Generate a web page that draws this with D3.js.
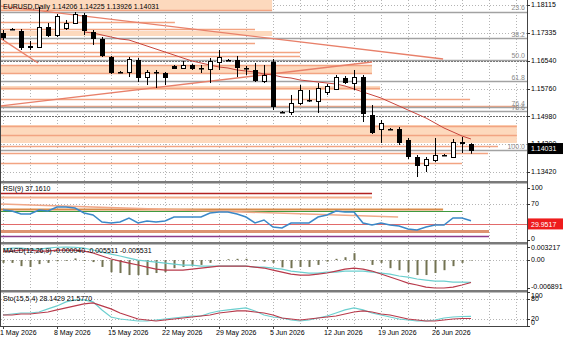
<!DOCTYPE html>
<meta charset="utf-8">
<head>
	<title>EURUSD Daily</title>
</head>

<style>
	body { margin: 0; background: #fff; }
	svg { display: block; font-family: "Liberation Sans", Arial, sans-serif; font-size: 7px; }
</style>

<body>
	<svg width="564" height="338"></svg>

	<script src="https://d3js.org/d3.v7.min.js"></script>
	<script>
// daily bars (broker has Sunday bars)
var dates = ["2026-05-01",
	"2026-05-03","2026-05-04","2026-05-05","2026-05-06","2026-05-07","2026-05-08",
	"2026-05-10","2026-05-11","2026-05-12","2026-05-13","2026-05-14","2026-05-15",
	"2026-05-17","2026-05-18","2026-05-19","2026-05-20","2026-05-21","2026-05-22",
	"2026-05-24","2026-05-25","2026-05-26","2026-05-27","2026-05-28","2026-05-29",
	"2026-05-31","2026-06-01","2026-06-02","2026-06-03","2026-06-04","2026-06-05",
	"2026-06-07","2026-06-08","2026-06-09","2026-06-10","2026-06-11","2026-06-12",
	"2026-06-14","2026-06-15","2026-06-16","2026-06-17","2026-06-18","2026-06-19",
	"2026-06-21","2026-06-22","2026-06-23","2026-06-24","2026-06-25","2026-06-26",
	"2026-06-28","2026-06-29","2026-06-30","2026-07-01"];
var xLabelDates = ["2026-05-01","2026-05-08","2026-05-15","2026-05-22","2026-05-29",
	"2026-06-05","2026-06-12","2026-06-19","2026-06-26"];

// open, high, low, close
var ohlc = [
	[1.17327,1.17411,1.17129,1.17214],[1.17440,1.17467,1.17411,1.17430],[1.17383,1.17439,1.16848,1.16932],
	[1.16932,1.17101,1.16848,1.16960],[1.16932,1.18059,1.16904,1.17495],[1.17495,1.17608,1.17214,1.17270],
	[1.17270,1.17862,1.17214,1.17805],[1.17467,1.17693,1.17411,1.17608],[1.17608,1.17918,1.17580,1.17862],
	[1.17833,1.17890,1.17270,1.17411],[1.17355,1.17411,1.16989,1.17186],[1.17158,1.17214,1.16651,1.16707],
	[1.16651,1.16679,1.16172,1.16228],[1.16228,1.16256,1.16200,1.16235],[1.16228,1.16651,1.16087,1.16594],
	[1.16566,1.16622,1.15947,1.16087],[1.16087,1.16285,1.15862,1.16228],[1.16228,1.16285,1.15778,1.16215],
	[1.16200,1.16228,1.15862,1.16087],[1.16397,1.16425,1.16313,1.16341],[1.16341,1.16538,1.16313,1.16425],
	[1.16425,1.16454,1.16285,1.16341],[1.16341,1.16425,1.16200,1.16330],[1.16313,1.16622,1.15918,1.16538],
	[1.16510,1.16848,1.16285,1.16651],[1.16566,1.16594,1.16538,1.16560],[1.16566,1.16679,1.16087,1.16369],
	[1.16341,1.16397,1.16144,1.16330],[1.16285,1.16482,1.15947,1.16003],[1.15975,1.16425,1.15918,1.16144],
	[1.16510,1.16594,1.15158,1.15271],[1.15102,1.15130,1.15074,1.15095],[1.15102,1.15581,1.15017,1.15355],
	[1.15355,1.15862,1.15299,1.15721],[1.15440,1.15721,1.15383,1.15430],[1.15412,1.15918,1.15074,1.15778],
	[1.15665,1.15890,1.15581,1.15834],[1.15750,1.16144,1.15721,1.16087],[1.16059,1.16116,1.15890,1.15947],
	[1.15918,1.16285,1.15721,1.16087],[1.16087,1.16144,1.14820,1.15074],[1.15017,1.15299,1.14482,1.14539],
	[1.14623,1.14877,1.14229,1.14792],[1.14623,1.14651,1.14595,1.14615],[1.14623,1.14679,1.14173,1.14257],
	[1.14313,1.14370,1.13778,1.13863],[1.13835,1.13891,1.13271,1.13609],[1.13609,1.13835,1.13412,1.13778],
	[1.13750,1.14370,1.13694,1.13891],[1.13891,1.13919,1.13863,1.13885],[1.13835,1.14341,1.13806,1.14257],
	[1.14220,1.14398,1.13947,1.14245],[1.14206,1.14225,1.13926,1.14031]];

// moving average on the price window
var ma = [null,null,null,null,null,null,null,null,null,
	1.17355,1.17327,1.17270,1.17214,1.17158,1.17129,1.17045,1.16960,1.16876,1.16791,1.16707,
	1.16622,1.16538,1.16482,1.16425,1.16369,1.16341,1.16285,1.16256,1.16228,1.16172,1.16144,
	1.16087,1.16059,1.16003,1.15975,1.15947,1.15918,1.15890,1.15834,1.15750,1.15665,1.15581,
	1.15496,1.15383,1.15271,1.15158,1.15045,1.14933,1.14792,1.14651,1.14539,1.14426,1.14341];

var priceTicks = [1.18115, 1.17335, 1.16540, 1.15760, 1.14980, 1.14200, 1.13420];
var lastPrice = 1.14031;

// drawn objects: zones [top, bottom, last bar], levels [price, last bar]
var zones = [[1.18300,1.17974,29.9],[1.17383,1.17242,29.9],[1.16425,1.16200,41],
	[1.15834,1.15721,41.9],[1.14736,1.14229,57.1]];
var levels = [[1.17974,29.9],[1.17636,19.1],[1.17439,28],[1.17045,28],[1.16791,33],[1.16679,33],
	[1.16425,41],[1.16200,41],[1.15778,41.9],[1.15468,51.9],[1.15271,57.1],[1.14708,57.1],
	[1.14454,57.1],[1.14144,55],[1.13947,53.9],[1.13666,51]];
var dashedLevels = [1.16540, 1.14980];
var trendLines = [[[-0.33,1.18087],[48.9,1.16594]], [[-0.33,1.17186],[3.9,1.16482]],
	[[-0.33,1.15271],[41,1.16510]]];
var fibHigh = 1.1912, fibLow = 1.1403;
var fibLevels = [23.6, 38.2, 50.0, 61.8, 76.4, 78.6, 100.0];

var rsi = [57.7,55.8,50.0,50.0,57.7,55.8,63.5,63.5,61.5,51.9,48.1,34.6,32.7,34.6,42.3,32.7,36.5,34.6,
	36.5,44.2,44.2,44.2,44.2,51.9,53.8,53.8,50.0,44.2,32.7,38.5,25.0,23.1,32.7,32.7,32.7,44.2,48.1,
	55.8,53.8,53.8,32.7,28.8,32.7,28.8,26.9,21.2,19.2,25.0,28.8,28.8,42.3,42.3,37.161];
var rsiTicks = [100, 70, 0];
var rsiLevels = [[90.4,41],[82.7,41],[59.6,48.9],[55.8,51],[17.3,54],[7.7,54]];
var rsiTrend = [[-0.33,69.2],[43.9,44.2]];
var rsiAlert = 29.9517;

var macdHist = [-0.0007,-0.0007,-0.0015,-0.0017,-0.0010,-0.0007,-0.0003,-0.0002,0.0004,-0.0002,
	-0.0005,-0.0017,-0.0030,-0.0032,-0.0037,-0.0037,-0.0037,-0.0032,-0.0030,-0.0020,
	-0.0017,-0.0015,-0.0012,-0.0007,-0.0002,0.0002,0.0003,0.0003,-0.0002,-0.0004,
	-0.0007,-0.0018,-0.0020,-0.0017,-0.0017,-0.0012,-0.0004,0.0003,0.0007,0.0017,
	-0.0002,-0.0012,-0.0007,-0.0020,-0.0025,-0.0030,-0.0037,-0.0037,-0.0032,-0.0025,
	-0.0015,-0.0007,-0.00004];
var macdMain = [0.00271,0.00296,0.00296,0.00271,0.00271,0.00296,0.00315,0.003217,0.00315,0.00296,
	0.00247,0.00197,0.00148,0.00099,0.00049,0,-0.00025,-0.00049,-0.00074,-0.00099,
	-0.00123,-0.00123,-0.00148,-0.00148,-0.00148,-0.00148,-0.00148,-0.00148,-0.00173,-0.00173,
	-0.00197,-0.00222,-0.00271,-0.00296,-0.00320,-0.00320,-0.00296,-0.00296,-0.00271,-0.00271,
	-0.00271,-0.00296,-0.00320,-0.00345,-0.00394,-0.00419,-0.00468,-0.00493,-0.00518,-0.00518,
	-0.00542,-0.00545,-0.005511];
var macdSignal = [0.00222,0.00222,0.00247,0.00247,0.00222,0.00222,0.00247,0.00247,0.00247,0.00222,
	0.00173,0.00099,0.00025,-0.00025,-0.00074,-0.00123,-0.00173,-0.00222,-0.00247,-0.00247,
	-0.00247,-0.00222,-0.00197,-0.00173,-0.00148,-0.00148,-0.00148,-0.00148,-0.00173,-0.00197,
	-0.00247,-0.00296,-0.00345,-0.00370,-0.00370,-0.00345,-0.00320,-0.00271,-0.00222,-0.00197,
	-0.00222,-0.00271,-0.00345,-0.00419,-0.00493,-0.00567,-0.00616,-0.00666,-0.006891,-0.00689,
	-0.00666,-0.00616,-0.005531];
var macdTicks = [0.003217, 0, -0.006891];

var stoK = [32.1,35.1,38.1,38.1,41.1,50.2,59.2,71.2,77.2,77.2,71.2,47.2,26.1,20.1,17.1,14.1,14.1,17.1,
	20.1,23.1,26.1,29.1,29.1,38.1,44.1,47.2,50.2,53.2,44.1,32.1,26.1,23.1,17.1,14.1,17.1,23.1,29.1,
	38.1,47.2,53.2,47.2,38.1,32.1,26.1,20.1,17.1,14.1,14.1,17.1,23.1,26.1,27.6,28.1429];
var stoD = [32.1,32.1,35.1,35.1,38.1,41.1,47.2,53.2,59.2,65.2,68.2,59.2,50.2,38.1,29.1,20.1,17.1,14.1,
	17.1,20.1,23.1,26.1,29.1,32.1,38.1,41.1,44.1,44.1,41.1,38.1,32.1,23.1,20.1,17.1,20.1,23.1,26.1,
	29.1,35.1,41.1,44.1,41.1,35.1,32.1,26.1,20.1,17.1,14.1,14.1,17.1,20.1,21.6,21.577];
var stoTicks = [100, 80, 20, 0];

var svg = d3.select('svg');
var L = 1, R = 527;
var parse = d3.timeParse('%Y-%m-%d'), fmt = d3.timeFormat('%-d %b %Y');

var x = d3.scaleLinear().domain([0, 58]).range([3, 525]);
var yP = d3.scaleLinear().domain([1.13187, 1.18256]).range([180, 0]);
var yR = d3.scaleLinear().domain([0, 100]).range([240, 188]);
var yM = d3.scaleLinear().domain([-0.006891, 0.003217]).range([288, 247]);
var yS = d3.scaleLinear().domain([0, 100]).range([325.7, 292.3]);

var peach = '#fdd9bd', salmon = '#f2a482', coral = '#e8806a', grid = '#b4b4b4';

function panel(id, top, bottom) {
	svg.append('clipPath').attr('id', id).append('rect')
		.attr('x', L).attr('y', top).attr('width', R - L).attr('height', bottom - top);
	var g = svg.append('g').attr('clip-path', 'url(#' + id + ')');
	g.selectAll('line.vg').data(d3.range(0, 58, 3)).enter().append('line')
		.attr('x1', function(d) {return x(d) + 0.5;}).attr('x2', function(d) {return x(d) + 0.5;})
		.attr('y1', top).attr('y2', bottom)
		.attr('stroke', grid).attr('stroke-dasharray', '1,2');
	return g;
}

function hline(g, y, x2, color, w, dash) {
	var yy = Math.round(y) + 0.5;
	g.append('line').attr('x1', L).attr('x2', x2).attr('y1', yy).attr('y2', yy)
		.attr('stroke', color).attr('stroke-width', w || 1)
		.attr('stroke-dasharray', dash || null);
}

function seg(g, pts, sy, color, w) {
	g.append('line')
		.attr('x1', x(pts[0][0])).attr('y1', sy(pts[0][1]))
		.attr('x2', x(pts[1][0])).attr('y2', sy(pts[1][1]))
		.attr('stroke', color).attr('stroke-width', w);
}

function series(g, vals, sy, color, w) {
	g.append('path').datum(vals)
		.attr('d', d3.line().defined(function(d) {return d != null;})
			.x(function(d, i) {return x(i);}).y(function(d) {return sy(d);}))
		.attr('fill', 'none').attr('stroke', color).attr('stroke-width', w);
}

function axisLabels(ticks, sy, top, bottom, f) {
	ticks.forEach(function(t) {
		var y = Math.max(top + 3, Math.min(bottom - 3, sy(t)));
		svg.append('line').attr('x1', R).attr('x2', R + 3).attr('y1', Math.round(sy(t)) + 0.5)
			.attr('y2', Math.round(sy(t)) + 0.5).attr('stroke', '#333');
		svg.append('text').attr('x', R + 4).attr('y', y).attr('dy', '0.35em').text(f(t));
	});
}

// ---- main price window
var gMain = panel('cMain', 0, 181);
priceTicks.forEach(function(p) {hline(gMain, yP(p), R, grid, 1, '1,2');});
zones.forEach(function(z) {
	gMain.append('rect').attr('x', L).attr('y', yP(z[0]))
		.attr('width', x(z[2]) - L).attr('height', yP(z[1]) - yP(z[0])).attr('fill', peach);
});
levels.forEach(function(l) {hline(gMain, yP(l[0]), x(l[1]), salmon, 1.3);});
dashedLevels.forEach(function(p) {hline(gMain, yP(p), R, '#6a6a6a', 1, '2,1');});
fibLevels.forEach(function(f) {
	var p = fibHigh - (fibHigh - fibLow) * f / 100;
	hline(gMain, yP(p), R, '#a2a2a2', 1.4);
	gMain.append('text').attr('x', R - 2).attr('y', yP(p) - 1.5).attr('text-anchor', 'end')
		.attr('fill', '#8a8a8a').text(f.toFixed(1));
});
trendLines.forEach(function(t) {seg(gMain, t, yP, coral, 1.4);});
series(gMain, ma, yP, '#c8463e', 1);

var candle = gMain.selectAll('g.candle').data(ohlc).enter().append('g');
candle.append('line')
	.attr('x1', function(d, i) {return x(i) + 0.5;}).attr('x2', function(d, i) {return x(i) + 0.5;})
	.attr('y1', function(d) {return yP(d[1]);}).attr('y2', function(d) {return yP(d[2]);})
	.attr('stroke', '#000');
candle.append('rect')
	.attr('x', function(d, i) {return x(i) - 1.5;})
	.attr('y', function(d) {return Math.round(yP(Math.max(d[0], d[3]))) + 0.5;})
	.attr('width', 4)
	.attr('height', function(d) {return Math.max(0.5, Math.round(Math.abs(yP(d[0]) - yP(d[3]))));})
	.attr('fill', function(d) {return d[3] < d[0] ? '#000' : '#fff';})
	.attr('stroke', '#000');

gMain.append('text').attr('x', 3).attr('y', 9)
	.text('EURUSD,Daily  1.14206 1.14225 1.13926 1.14031');

// ---- RSI window
var gRsi = panel('cRsi', 184, 242);
[70, 30].forEach(function(v) {hline(gRsi, yR(v), R, grid, 1, '1,2');});
var rsiStyle = [['#b22222', 1.5], ['#f4b08e', 2], ['#d98b4a', 2], ['#3f9a3f', 1.2], ['#dd9270', 3], ['#8b3a8b', 1.5]];
rsiLevels.forEach(function(l, i) {hline(gRsi, yR(l[0]), x(l[1]), rsiStyle[i][0], rsiStyle[i][1]);});
seg(gRsi, rsiTrend, yR, '#f0a888', 1.5);
hline(gRsi, yR(rsiAlert), R, '#e26a6a', 1);
series(gRsi, rsi, yR, '#3a88c8', 1.5);
gRsi.append('text').attr('x', 3).attr('y', 191).text('RSI(9) 37.1610');

// ---- MACD window
var gMacd = panel('cMacd', 245, 290);
hline(gMacd, yM(0), R, grid, 1, '1,2');
gMacd.selectAll('rect.h').data(macdHist).enter().append('rect')
	.attr('x', function(d, i) {return x(i) - 0.5;}).attr('width', 2)
	.attr('y', function(d) {return Math.min(yM(0), yM(d));})
	.attr('height', function(d) {return Math.max(0.5, Math.abs(yM(d) - yM(0)));})
	.attr('fill', '#737352');
series(gMacd, macdMain, yM, '#6ccfcf', 1.2);
series(gMacd, macdSignal, yM, '#b83a4b', 1.2);
gMacd.append('text').attr('x', 3).attr('y', 253).text('MACD(12,26,9) -0.000040 -0.005511 -0.005531');

// ---- Stochastic window
var gSto = panel('cSto', 293, 326);
[80, 20].forEach(function(v) {hline(gSto, yS(v), R, grid, 1, '1,2');});
series(gSto, stoK, yS, '#6ccfcf', 1.2);
series(gSto, stoD, yS, '#b83a4b', 1.2);
gSto.append('text').attr('x', 3).attr('y', 301).text('Sto(15,5,4) 28.1429 21.5770');

// ---- frame and separators
[181, 242, 290].forEach(function(y) {
	svg.append('rect').attr('x', 0).attr('y', y).attr('width', R + 1).attr('height', 2.5).attr('fill', '#7a7a7a');
});
svg.append('line').attr('x1', 0.5).attr('x2', 0.5).attr('y1', 0).attr('y2', 327).attr('stroke', '#444');
svg.append('line').attr('x1', R + 0.5).attr('x2', R + 0.5).attr('y1', 0).attr('y2', 327).attr('stroke', '#444');
svg.append('line').attr('x1', 0).attr('x2', R + 1).attr('y1', 326.5).attr('y2', 326.5).attr('stroke', '#444');

// ---- right axis labels
axisLabels(priceTicks, yP, 0, 181, d3.format('.5f'));
axisLabels(rsiTicks, yR, 184, 242, function(v) {return v;});
axisLabels(macdTicks, yM, 245, 290, function(v) {return v === 0 ? '0.00' : v.toFixed(6);});
axisLabels(stoTicks, yS, 293, 326, function(v) {return v;});

function flag(v, sy, fill, txt) {
	var y = sy(v);
	svg.append('rect').attr('x', R + 1).attr('y', y - 6).attr('width', 35).attr('height', 11).attr('fill', fill);
	svg.append('text').attr('x', R + 4).attr('y', y).attr('dy', '0.35em').attr('fill', '#fff').text(txt);
}
flag(lastPrice, function(v) {return yP(v) - 1;}, '#000', '1.14031');
flag(rsiAlert, yR, '#ee1c1c', '29.9517');

// ---- time axis
var idx = xLabelDates.map(function(d) {return dates.indexOf(d);});
idx.forEach(function(i) {
	svg.append('line').attr('x1', x(i) + 0.5).attr('x2', x(i) + 0.5).attr('y1', 327).attr('y2', 329).attr('stroke', '#444');
	svg.append('text').attr('x', x(i) - 3).attr('y', 335).text(fmt(parse(dates[i])));
});
	</script>
</body>
</html>
